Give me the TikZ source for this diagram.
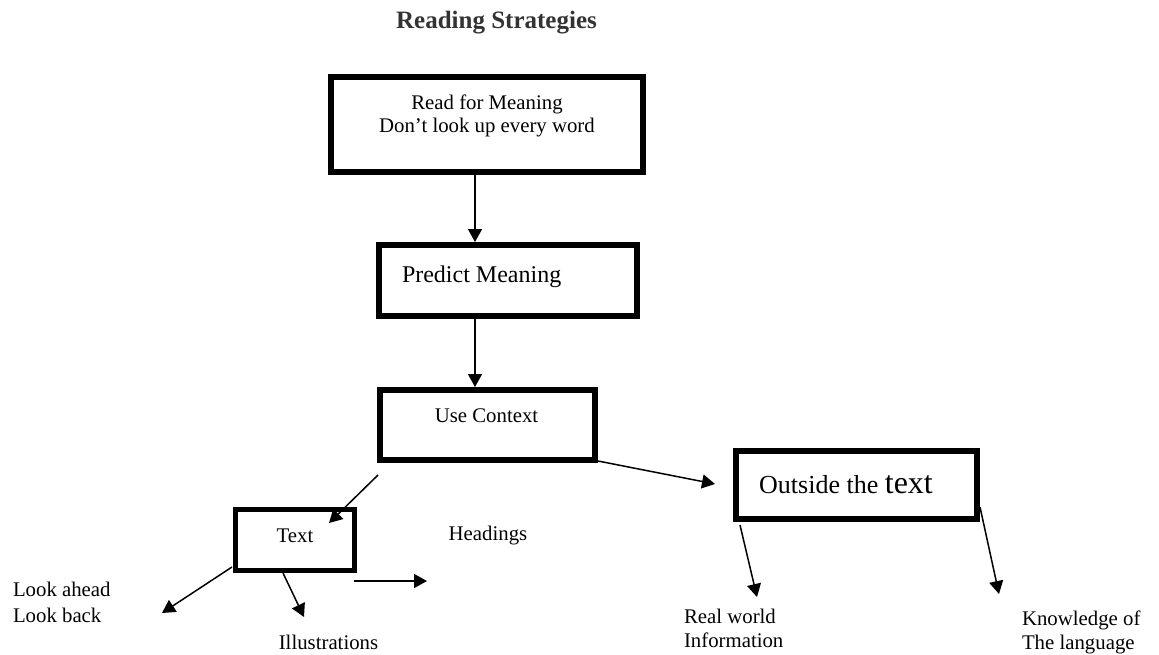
\documentclass[tikz,border=0pt]{standalone}
\usepackage{fontspec}
\setmainfont{Liberation Serif}
\usetikzlibrary{arrows.meta}
\begin{document}
\begin{tikzpicture}[x=1pt,y=-1pt,
  box/.style={draw,line width=6pt,inner sep=0pt,outer sep=3pt},
  thinbox/.style={draw,line width=5pt,inner sep=0pt,outer sep=2.5pt},
  arr/.style={-{Triangle[length=13pt,width=14pt]},line width=1.5pt},
  lbl/.style={font=\fontsize{20.8}{24}\selectfont,inner sep=0pt,outer sep=0pt},
  big/.style={font=\fontsize{24}{28}\selectfont,inner sep=0pt,outer sep=0pt}
]
\useasboundingbox (0,0) rectangle (1159,654);

% title
\node[inner sep=0pt,font=\fontsize{25}{30}\selectfont\bfseries,text=black!80] (title) at (496.5,23) {Reading Strategies};

% boxes
\node[box,minimum width=312pt,minimum height=95pt] (b1) at (487,124.5) {};
\node[box,minimum width=258pt,minimum height=71pt] (b2) at (508,280.5) {};
\node[box,minimum width=215pt,minimum height=70pt] (b3) at (487.5,425) {};
\node[thinbox,minimum width=119pt,minimum height=61pt] (bt) at (295,540) {};
\node[box,minimum width=241pt,minimum height=68pt] (bo) at (856.5,485) {};

% box texts
\node[lbl,align=center] (b1t) at (487,116) {Read for Meaning\\[-1pt]Don’t look up every word};
\node[big,anchor=base west] (b2t) at (402,282) {Predict Meaning};
\node[lbl,anchor=base] (b3t) at (486.5,422) {Use Context};
\node[lbl,anchor=base] (btt) at (295,542) {Text};
\node[inner sep=0pt,anchor=base west,font=\fontsize{26}{30}\selectfont] (bot) at (759,493) {Outside the {\fontsize{32}{36}\selectfont text}};

% free labels
\node[lbl,anchor=base] (head) at (488,540) {Headings};
\node[lbl,anchor=base] (ill) at (328.5,649) {Illustrations};
\node[lbl,anchor=base west] (look1) at (13,596) {Look ahead};
\node[lbl,anchor=base west] (look2) at (13,622) {Look back};
\node[lbl,anchor=base west] (real1) at (684,623) {Real world};
\node[lbl,anchor=base west] (real2) at (684,647) {Information};
\node[lbl,anchor=base west] (know1) at (1022,625) {Knowledge of};
\node[lbl,anchor=base west] (know2) at (1022,649) {The language};

% connector coordinates
\coordinate (ax) at (475,0);
\coordinate (s1) at (378,475);
\coordinate (e1) at (329,523);
\coordinate (e2) at (715,484);
\coordinate (s3) at (232,567);
\coordinate (e3) at (162,613);
\coordinate (e4) at (304,617);
\coordinate (s5) at (354,581);
\coordinate (e5) at (427,581);
\coordinate (s6) at (740,525);
\coordinate (e6) at (757,597);
\coordinate (s7) at (980,507);
\coordinate (e7) at (999,594);

% connectors
\draw[arr] (b1.south -| ax) -- (b2.north -| ax);
\draw[arr] (b2.south -| ax) -- (b3.north -| ax);
\draw[arr] (s1) -- (e1);
\draw[arr] (b3.south east) ++(0,-2) -- (e2);
\draw[arr] (s3) -- (e3);
\draw[arr] (bt.south -| 283,0) -- (e4);
\draw[arr] (s5) -- (e5);
\draw[arr] (s6) -- (e6);
\draw[arr] (s7) -- (e7);
\end{tikzpicture}
\end{document}
